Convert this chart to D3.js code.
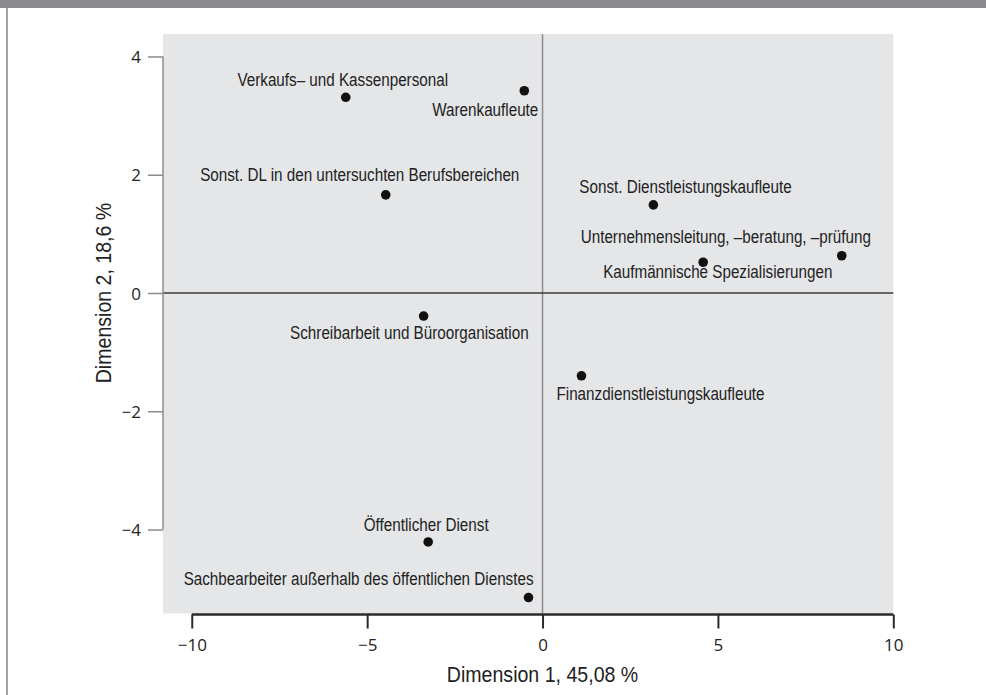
<!DOCTYPE html>
<html>
<head>
<meta charset="utf-8">
<script src="https://cdn.jsdelivr.net/npm/d3@7"></script>
<style>
  body { margin: 0; background: #fff; }
  .lbl { font-family: "Liberation Sans", Arial, sans-serif; fill: #222; }
</style>
</head>
<body>
<div id="chart"></div>
<script>
// Occupational groups and their coordinates on the two dimensions
const occupations = [
    "Verkaufs– und Kassenpersonal",
    "Warenkaufleute",
    "Sonst. DL in den untersuchten Berufsbereichen",
    "Sonst. Dienstleistungskaufleute",
    "Unternehmensleitung, –beratung, –prüfung",
    "Kaufmännische Spezialisierungen",
    "Schreibarbeit und Büroorganisation",
    "Finanzdienstleistungskaufleute",
    "Öffentlicher Dienst",
    "Sachbearbeiter außerhalb des öffentlichen Dienstes"
];
const dim1 = [-5.61, -0.52, -4.47, 3.16, 8.53, 4.58, -3.39, 1.11, -3.26, -0.40];
const dim2 = [3.31, 3.42, 1.66, 1.49, 0.63, 0.52, -0.39, -1.40, -4.21, -5.15];
const xTicks = [-10, -5, 0, 5, 10];
const yTicks = [-4, -2, 0, 2, 4];
const xTitle = "Dimension 1, 45,08 %";
const yTitle = "Dimension 2, 18,6 %";

// label placement relative to each dot (anchor, dx, dy)
const labelPlacement = [
    ["middle", -3, -11],
    ["end", 14, 25],
    ["middle", -26, -14],
    ["start", -74, -12],
    ["start", -261, -13],
    ["start", -100, 16],
    ["end", 105, 23],
    ["start", -25, 24],
    ["middle", -2, -11],
    ["end", 5, -13]
];

const W = 986, H = 695;
const narrow = 0.87; // horizontal squeeze to mimic a condensed face

const svg = d3.select("#chart").append("svg")
    .attr("width", W)
    .attr("height", H);

// frame: top bar and left rule
svg.append("rect").attr("x", 0).attr("y", 0).attr("width", W).attr("height", 8).attr("fill", "#8b8b8f");
svg.append("rect").attr("x", 6).attr("y", 8).attr("width", 2).attr("height", H - 8).attr("fill", "#a3a3a6");

const x = d3.scaleLinear().domain([-10.82, 10]).range([163, 893.3]);
const y = d3.scaleLinear().domain([-5.42, 4.38]).range([613.5, 34]);

// plot background
svg.append("rect")
    .attr("x", x(-10.82)).attr("y", y(4.38))
    .attr("width", x(10) - x(-10.82))
    .attr("height", y(-5.42) - y(4.38))
    .attr("fill", "#e5e6e8");

// zero lines
svg.append("line")
    .attr("x1", x(0)).attr("x2", x(0))
    .attr("y1", y(4.38)).attr("y2", y(-5.42))
    .attr("stroke", "#8c8c8c").attr("stroke-width", 1.5);
svg.append("line")
    .attr("x1", x(-10.82)).attr("x2", x(10))
    .attr("y1", y(0)).attr("y2", y(0))
    .attr("stroke", "#3a3a3a").attr("stroke-width", 1.5);

// X axis
const gx = svg.append("g")
    .attr("transform", `translate(0,${y(-5.42) + 1})`)
    .call(d3.axisBottom(x).tickValues(xTicks).tickSize(14).tickPadding(10).tickSizeOuter(0));
gx.select(".domain").attr("stroke", "#2a2a2a").attr("stroke-width", 2.5)
    .attr("d", `M${x(-10)},0H${x(10)}`);
gx.selectAll(".tick line").attr("stroke", "#2a2a2a").attr("stroke-width", 2);

// Y axis
const gy = svg.append("g")
    .attr("transform", `translate(${x(-10.82)},0)`)
    .call(d3.axisLeft(y).tickValues(yTicks).tickSize(15).tickPadding(7).tickSizeOuter(0));
gy.select(".domain").attr("stroke", "#8c8c8c").attr("stroke-width", 1.5)
    .attr("d", `M0,${y(4)}V${y(-4)}`);
gy.selectAll(".tick line").attr("stroke", "#8c8c8c").attr("stroke-width", 1.5);
gy.selectAll(".tick text").attr("dy", "0.36em");

svg.selectAll(".tick text")
    .style("font-family", "'Open Sans', 'DejaVu Sans', sans-serif")
    .style("font-size", "17px")
    .attr("fill", "#222");

// axis titles
svg.append("text")
    .attr("class", "lbl")
    .attr("transform", `translate(${x(0)},682) scale(${narrow},1)`)
    .attr("text-anchor", "middle")
    .style("font-size", "22.5px")
    .text(xTitle);

svg.append("text")
    .attr("class", "lbl")
    .attr("transform", `translate(111,${y(0)}) rotate(-90) scale(${narrow},1)`)
    .attr("text-anchor", "middle")
    .style("font-size", "22.5px")
    .text(yTitle);

// points
const points = occupations.map((name, i) => ({ name, d1: dim1[i], d2: dim2[i], place: labelPlacement[i] }));

svg.selectAll(".dot")
    .data(points)
    .enter()
    .append("circle")
    .attr("class", "dot")
    .attr("cx", d => x(d.d1))
    .attr("cy", d => y(d.d2))
    .attr("r", 4.8)
    .attr("fill", "#111");

svg.selectAll(".plabel")
    .data(points)
    .enter()
    .append("text")
    .attr("class", "lbl plabel")
    .attr("transform", d => `translate(${x(d.d1) + d.place[1]},${y(d.d2) + d.place[2]}) scale(${narrow},1)`)
    .attr("text-anchor", d => d.place[0])
    .style("font-size", "17.5px")
    .text(d => d.name);
</script>
</body>
</html>
